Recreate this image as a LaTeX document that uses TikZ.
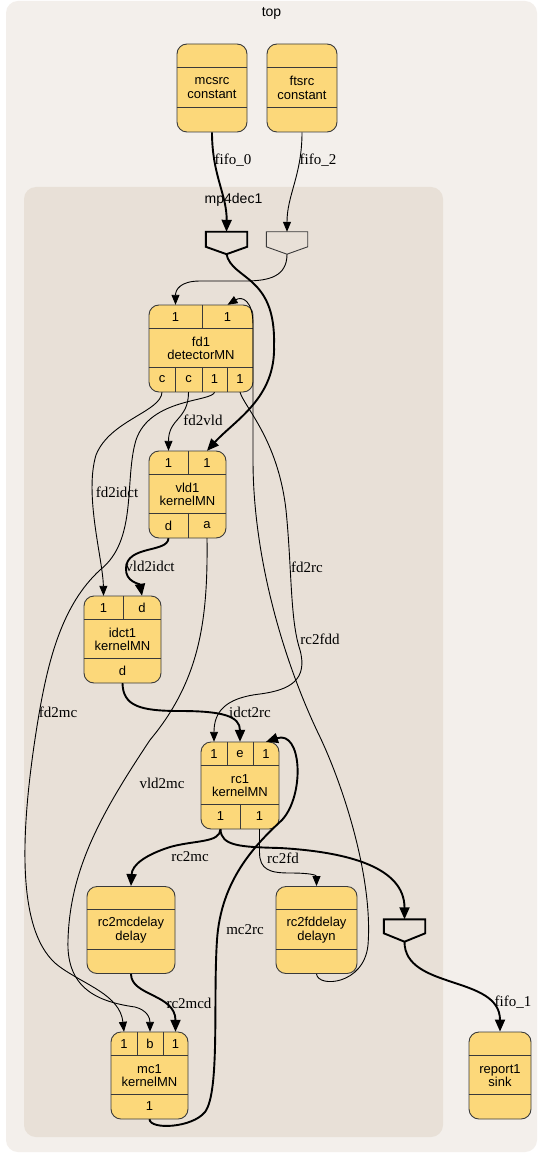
\documentclass[tikz,border=0pt]{standalone}
\usepackage{fontspec}
\setmainfont{Liberation Serif}
\setsansfont{Liberation Sans}
\usepackage{xcolor}
\usepackage{tikz}
\usetikzlibrary{arrows.meta,calc}
\definecolor{topbg}{HTML}{F3EFEB}
\definecolor{subbg}{HTML}{E8E0D7}
\definecolor{actorfill}{HTML}{FCD87A}
\definecolor{rimgray}{HTML}{3A3A3A}
\newcommand{\actorfont}{\sffamily\fontsize{13}{13.5}\selectfont}
\newcommand{\wirefont}{\rmfamily\fontsize{15}{17}\selectfont}

\begin{document}
\begin{tikzpicture}[x=1pt, y=-1pt]
  \tikzstyle{cluster}=[rounded corners=12pt, inner sep=0pt]
  \tikzstyle{clustername}=[inner sep=0pt, font=\sffamily\fontsize{14}{16}\selectfont]
  \tikzstyle{actor}=[draw=rimgray, line width=0.9pt, fill=actorfill, rounded corners=10pt, inner sep=0pt, align=center, font=\actorfont]
  \tikzstyle{cell}=[inner sep=0pt, font=\actorfont]
  \tikzstyle{rowline}=[draw=rimgray, line width=0.9pt]
  \tikzstyle{portbox}=[inner sep=0pt, minimum width=41pt, minimum height=22pt]
  \tikzstyle{wire}=[line width=0.9pt, -{Triangle[length=10pt, width=8pt]}]
  \tikzstyle{fatwire}=[line width=1.9pt, -{Triangle[length=12pt, width=10pt]}]
  \tikzstyle{elabel}=[inner sep=0pt, font=\wirefont]

  \useasboundingbox (0,0) rectangle (543,1155);
  \fill[white] (0,0) rectangle (543,1155);

  % clusters
  \node[cluster, fill=topbg, minimum width=531pt, minimum height=1151pt] (top) at (271.5,576.5) {};
  \node[clustername] (top-name) at (271.5,13) {top};
  \node[cluster, fill=subbg, minimum width=419pt, minimum height=950pt] (mp4dec1) at (233.5,662) {};
  \node[clustername] (mp4dec1-name) at (233.5,200) {mp4dec1};

  % actors
  \node[actor, minimum width=70pt, minimum height=88pt] (mcsrc) at (212,88) {mcsrc\\constant};
  \node[actor, minimum width=70pt, minimum height=88pt] (ftsrc) at (302,88) {ftsrc\\constant};
  \node[actor, minimum width=104pt, minimum height=87pt] (fd1) at (201,348.5) {fd1\\detectorMN};
  \node[actor, minimum width=77pt, minimum height=87pt] (vld1) at (187.5,494.5) {vld1\\kernelMN};
  \node[actor, minimum width=77pt, minimum height=87pt] (idct1) at (122.5,639.5) {idct1\\kernelMN};
  \node[actor, minimum width=78pt, minimum height=87pt] (rc1) at (240,785.5) {rc1\\kernelMN};
  \node[actor, minimum width=88pt, minimum height=87pt] (rc2mcdelay) at (131,930) {rc2mcdelay\\delay};
  \node[actor, minimum width=81pt, minimum height=87pt] (rc2fddelay) at (316.5,930) {rc2fddelay\\delayn};
  \node[actor, minimum width=77pt, minimum height=87pt] (mc1) at (149.5,1075.5) {mc1\\kernelMN};
  \node[actor, minimum width=62pt, minimum height=87pt] (report1) at (500,1075.5) {report1\\sink};

  \foreach \n in {mcsrc,ftsrc,fd1,vld1,idct1,rc1,rc2mcdelay,rc2fddelay,mc1,report1} {
    \draw[rowline] ($(\n.north west)+(0,23.5)$) -- ($(\n.north east)+(0,23.5)$);
    \draw[rowline] ($(\n.south west)+(0,-25)$) -- ($(\n.south east)+(0,-25)$);
  }

  % port cells
  \node[cell, minimum width=53pt, minimum height=23.5pt] (fd1-i1) at (175.5,316.75) {1};
  \node[cell, minimum width=51pt, minimum height=23.5pt] (fd1-i2) at (227.5,316.75) {1};
  \node[cell, minimum width=26pt, minimum height=25pt] (fd1-o1) at (162,379.5) {c};
  \node[cell, minimum width=27pt, minimum height=25pt] (fd1-o2) at (188.5,379.5) {c};
  \node[cell, minimum width=25pt, minimum height=25pt] (fd1-o3) at (214.5,379.5) {1};
  \node[cell, minimum width=26pt, minimum height=25pt] (fd1-o4) at (240,379.5) {1};
  \node[cell, minimum width=39pt, minimum height=23.5pt] (vld1-i1) at (168.5,462.75) {1};
  \node[cell, minimum width=38pt, minimum height=23.5pt] (vld1-i2) at (207,462.75) {1};
  \node[cell, minimum width=39pt, minimum height=25pt] (vld1-o1) at (168.5,525.5) {d};
  \node[cell, minimum width=38pt, minimum height=25pt] (vld1-o2) at (207,525.5) {a};
  \node[cell, minimum width=39pt, minimum height=23.5pt] (idct1-i1) at (103.5,607.75) {1};
  \node[cell, minimum width=38pt, minimum height=23.5pt] (idct1-i2) at (142,607.75) {d};
  \node[cell, minimum width=77pt, minimum height=25pt] (idct1-o1) at (122.5,670.5) {d};
  \node[cell, minimum width=26pt, minimum height=23.5pt] (rc1-i1) at (214,753.75) {1};
  \node[cell, minimum width=26pt, minimum height=23.5pt] (rc1-i2) at (240,753.75) {e};
  \node[cell, minimum width=26pt, minimum height=23.5pt] (rc1-i3) at (266,753.75) {1};
  \node[cell, minimum width=39pt, minimum height=25pt] (rc1-o1) at (220.5,816.5) {1};
  \node[cell, minimum width=39pt, minimum height=25pt] (rc1-o2) at (259.5,816.5) {1};
  \node[cell, minimum width=26pt, minimum height=23.5pt] (mc1-i1) at (124,1043.75) {1};
  \node[cell, minimum width=26pt, minimum height=23.5pt] (mc1-i2) at (150,1043.75) {b};
  \node[cell, minimum width=25pt, minimum height=23.5pt] (mc1-i3) at (175.5,1043.75) {1};
  \node[cell, minimum width=77pt, minimum height=25pt] (mc1-o1) at (149.5,1106.5) {1};

  \foreach \c in {fd1-i1,fd1-o1,fd1-o2,fd1-o3,vld1-i1,vld1-o1,idct1-i1,rc1-i1,rc1-i2,rc1-o1,mc1-i1,mc1-i2}
    \draw[rowline] (\c.north east) -- (\c.south east);

  % hierarchy ports
  \node[portbox] (pin0) at (226.5,243) {};
  \node[portbox] (pin2) at (287,243) {};
  \node[portbox] (pout1) at (404.5,930.5) {};
  \draw[line width=1.9pt] (pin0.north west) -- (pin0.north east) -- ++(0,15) -- (pin0.south) -- ($(pin0.north west)+(0,15)$) -- cycle;
  \draw[line width=0.9pt, draw=rimgray] (pin2.north west) -- (pin2.north east) -- ++(0,15) -- (pin2.south) -- ($(pin2.north west)+(0,15)$) -- cycle;
  \draw[line width=1.9pt] (pout1.north west) -- (pout1.north east) -- ++(0,14) -- (pout1.south) -- ($(pout1.north west)+(0,14)$) -- cycle;

  % channels
  \draw[fatwire] (mcsrc.south) .. controls (212,175) and (227,195) .. (pin0.north);
  \draw[wire] (ftsrc.south) .. controls (302,175) and (287,195) .. (pin2.north);
  \draw[fatwire] (pin0.south) .. controls (232,280) and (276,275) .. (274,345) .. controls (276,398) and (235,420) .. (vld1-i2.north);
  \draw[wire] (pin2.south) .. controls (287,276) and (270,281) .. (245,281) -- (200,281) .. controls (180,281) and (175.5,290) .. (fd1-i1.north);
  \draw[wire] (rc2fddelay.south) .. controls (318,988) and (364,985) .. (368,945) .. controls (373,880) and (345,790) .. (320,737) .. controls (285,665) and (253,560) .. (253,460) -- (253,325) .. controls (253,300) and (242,296) .. (fd1-i2.north);
  \draw[wire] (fd1-o4.south) .. controls (245,408) and (278,440) .. (286,510) .. controls (292,570) and (290,620) .. (300,650) .. controls (308,680) and (290,690) .. (260,694) .. controls (225,698) and (214,712) .. (rc1-i1.north);
  \draw[wire] (fd1-o2.south) .. controls (188.5,420) and (168.5,418) .. (vld1-i1.north);
  \draw[wire] (fd1-o1.south) .. controls (161,412) and (110,420) .. (96,455) .. controls (84,495) and (103,560) .. (idct1-i1.north);
  \draw[wire] (fd1-o3.south) .. controls (212,402) and (150,398) .. (136,440) .. controls (124,480) and (138,540) .. (100,570) .. controls (62,605) and (48,660) .. (38,720) .. controls (20,830) and (15,935) .. (60,967) .. controls (85,985) and (120,995) .. (mc1-i1.north);
  \draw[fatwire] (vld1-o1.south) .. controls (168,553) and (127,545) .. (126,568) .. controls (125,582) and (140,584) .. (idct1-i2.north);
  \draw[wire] (vld1-o2.south) .. controls (208,620) and (200,680) .. (150,740) .. controls (100,815) and (70,870) .. (68,940) .. controls (66,990) and (100,1002) .. (135,1007) .. controls (147,1010) and (150,1018) .. (mc1-i2.north);
  \draw[fatwire] (idct1-o1.south) .. controls (123,706) and (140,711) .. (180,711) .. controls (222,711) and (240,716) .. (rc1-i2.north);
  \draw[fatwire] (mc1-o1.south) .. controls (150,1130) and (192,1128) .. (205,1112) .. controls (220,1092) and (213,1000) .. (217,940) .. controls (221,880) and (255,845) .. (282,820) .. controls (305,795) and (302,730) .. (rc1-i3.north);
  \draw[fatwire] (rc1-o1.south) .. controls (220,843) and (195,840) .. (170,847) .. controls (145,855) and (132,865) .. (rc2mcdelay.north);
  \draw[wire] (rc1-o2.south) -- (259.5,852) .. controls (259.5,870) and (270,873) .. (290,873) .. controls (310,873) and (316.5,875) .. (rc2fddelay.north);
  \draw[fatwire] (rc1-o1.south) .. controls (221,846) and (240,847) .. (280,848) .. controls (350,852) and (404.5,868) .. (pout1.north);
  \draw[fatwire] (pout1.south) .. controls (404.5,990) and (500,975) .. (report1.north);
  \draw[fatwire] (rc2mcdelay.south) .. controls (131,996) and (175.5,994) .. (mc1-i3.north);

  % channel names
  \node[elabel] (fifo0-name) at (233,160) {fifo\_0};
  \node[elabel] (fifo2-name) at (318,160) {fifo\_2};
  \node[elabel] (fd2vld-name) at (203,420) {fd2vld};
  \node[elabel] (fd2idct-name) at (117,492) {fd2idct};
  \node[elabel] (vld2idct-name) at (150,566) {vld2idct};
  \node[elabel] (fd2rc-name) at (307,567) {fd2rc};
  \node[elabel] (rc2fdd-name) at (320,639) {rc2fdd};
  \node[elabel] (fd2mc-name) at (58,712) {fd2mc};
  \node[elabel] (idct2rc-name) at (250,712) {idct2rc};
  \node[elabel] (vld2mc-name) at (162,783) {vld2mc};
  \node[elabel] (rc2mc-name) at (190,857) {rc2mc};
  \node[elabel] (rc2fd-name) at (283,858) {rc2fd};
  \node[elabel] (mc2rc-name) at (245,930) {mc2rc};
  \node[elabel] (rc2mcd-name) at (189,1003) {rc2mcd};
  \node[elabel] (fifo1-name) at (513,1002) {fifo\_1};
\end{tikzpicture}
\end{document}
